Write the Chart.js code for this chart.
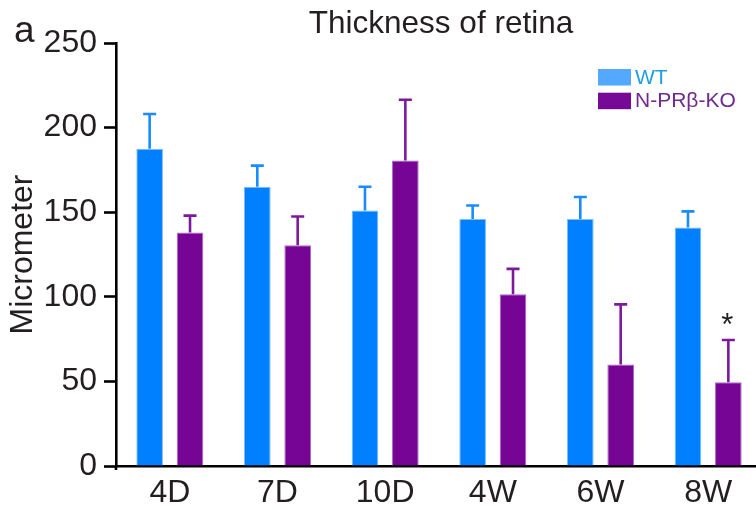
<!DOCTYPE html>
<html>
<head>
<meta charset="utf-8">
<script src="https://cdn.jsdelivr.net/npm/chart.js@4"></script>
<style>
    html, body { margin: 0; padding: 0; background: #fff; overflow: hidden; }
    #wrap { position: relative; width: 762px; height: 510px; }
</style>
</head>
<body>
<div id="wrap"><canvas id="thicknessChart" width="762" height="510"></canvas></div>
<script>
// values (micrometer)
const categories = ['4D', '7D', '10D', '4W', '6W', '8W'];
const wtValues = [187.5, 165, 151, 146, 146, 141];
const wtErrors = [20.5, 12.5, 14, 8, 13, 9.5];
const koValues = [138, 130.5, 180.5, 101.5, 60, 49.5];
const koErrors = [10, 17, 36, 15, 35.5, 25];
const koMarks = ['', '', '', '', '', '*'];
const yTicks = [0, 50, 100, 150, 200, 250];

const FONT = "'Liberation Sans', Arial, Helvetica, sans-serif";
const INK = '#231f20';

const errorBars = {
    id: 'errorBars',
    afterDatasetsDraw(chart) {
        const ctx = chart.ctx;
        const y = chart.scales.y;
        chart.data.datasets.forEach((ds, i) => {
            const meta = chart.getDatasetMeta(i);
            meta.data.forEach((bar, j) => {
                const top = y.getPixelForValue(ds.data[j] + ds.errors[j]);
                ctx.save();
                ctx.strokeStyle = ds.errorColor;
                ctx.lineWidth = 2.6;
                ctx.beginPath();
                ctx.moveTo(bar.x, bar.y);
                ctx.lineTo(bar.x, top);
                ctx.moveTo(bar.x - 6.5, top);
                ctx.lineTo(bar.x + 6.5, top);
                ctx.stroke();
                if (ds.marks && ds.marks[j]) {
                    ctx.fillStyle = INK;
                    ctx.font = `31px ${FONT}`;
                    ctx.textAlign = 'center';
                    ctx.textBaseline = 'alphabetic';
                    ctx.fillText(ds.marks[j], bar.x - 1, top - 5);
                }
                ctx.restore();
            });
        });
    }
};

const decorations = {
    id: 'decorations',
    afterDraw(chart) {
        const ctx = chart.ctx;
        ctx.save();
        ctx.fillStyle = INK;
        ctx.textBaseline = 'alphabetic';
        ctx.textAlign = 'center';
        ctx.font = `31.5px ${FONT}`;
        ctx.fillText('Thickness of retina', 441, 33);
        ctx.textAlign = 'left';
        ctx.font = `37px ${FONT}`;
        ctx.fillText('a', 14, 42);

        // y axis runs a little past the baseline
        const area = chart.chartArea;
        ctx.strokeStyle = '#000';
        ctx.lineWidth = 2.6;
        ctx.beginPath();
        ctx.moveTo(area.left, area.bottom);
        ctx.lineTo(area.left, area.bottom + 4);
        ctx.stroke();

        // legend
        chart.data.datasets.forEach((ds, i) => {
            const top = 69 + i * 23.7;
            ctx.fillStyle = ds.legendSwatch;
            ctx.fillRect(598, top, 33, 16.5);
            ctx.fillStyle = ds.legendText;
            ctx.font = `21px ${FONT}`;
            ctx.textBaseline = 'middle';
            ctx.fillText(ds.label, 635, top + 9);
        });
        ctx.restore();
    }
};

new Chart(document.getElementById('thicknessChart'), {
    type: 'bar',
    data: {
        labels: categories,
        datasets: [{
            label: 'WT',
            data: wtValues,
            errors: wtErrors,
            backgroundColor: '#0080ff',
            borderColor: '#7cbcff',
            borderWidth: 1,
            categoryPercentage: 0.75,
            barPercentage: 0.66,
            errorColor: '#1a8cff',
            legendSwatch: '#54a8ff',
            legendText: '#1c9fe6'
        }, {
            label: 'N-PRβ-KO',
            data: koValues,
            errors: koErrors,
            marks: koMarks,
            backgroundColor: '#760595',
            borderColor: '#a86cc4',
            borderWidth: 1,
            categoryPercentage: 0.75,
            barPercentage: 0.66,
            errorColor: '#7d1a9c',
            legendSwatch: '#760a96',
            legendText: '#6e2a8e'
        }]
    },
    options: {
        responsive: false,
        animation: false,
        devicePixelRatio: 1,
        layout: { padding: { top: 43, right: 0, left: 0, bottom: 0 } },
        plugins: {
            legend: { display: false },
            tooltip: { enabled: false }
        },
        scales: {
            x: {
                afterFit(scale) { scale.height = 44; },
                grid: { display: false, drawTicks: false },
                border: { display: true, color: '#000', width: 2.6 },
                ticks: { color: INK, padding: 8, font: { family: FONT, size: 32 } }
            },
            y: {
                min: 0,
                max: 250,
                afterFit(scale) { scale.width = 116; },
                afterBuildTicks(scale) { scale.ticks = yTicks.map(v => ({ value: v })); },
                grid: { drawOnChartArea: false, drawTicks: true, tickLength: 12, tickWidth: 2.6, tickColor: '#000' },
                border: { display: true, color: '#000', width: 2.6 },
                ticks: { color: INK, padding: 7, font: { family: FONT, size: 32 } },
                title: {
                    display: true,
                    text: 'Micrometer',
                    color: INK,
                    padding: { top: 4, bottom: 0 },
                    font: { family: FONT, size: 32 }
                }
            }
        }
    },
    plugins: [errorBars, decorations]
});
</script>
</body>
</html>
